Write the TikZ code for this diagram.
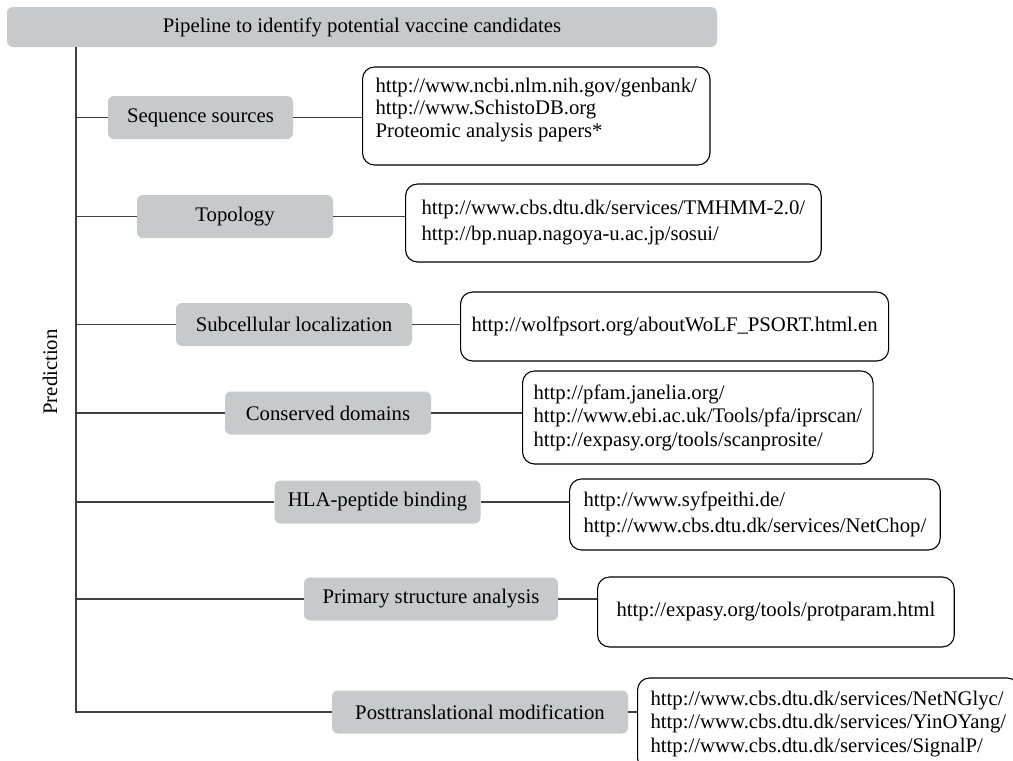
\documentclass[tikz,border=0pt]{standalone}
\usepackage{fontspec}
\setmainfont{Liberation Serif}
\usepackage{tikz}
\usetikzlibrary{positioning}
\definecolor{boxgray}{RGB}{200,201,203}
\definecolor{wiregray}{RGB}{64,64,64}

\begin{document}
\begin{tikzpicture}[x=1pt,y=-1pt,
  every node/.style={font=\fontsize{20.75}{23.5}\selectfont},
  cat/.style={fill=boxgray,rounded corners=6pt,minimum height=43pt,inner sep=0pt},
  src/.style={draw,line width=1.1pt,rounded corners=12pt,fill=white,align=left,anchor=west,inner ysep=0pt},
  wire/.style={draw=wiregray,line width=1.3pt}]
 \useasboundingbox (0,0) rectangle (1013,761);
 \clip (0,0) rectangle (1013,761);
 \node[cat,minimum width=710pt,minimum height=40pt] (title) at (362,27) {Pipeline to identify potential vaccine candidates};
 \coordinate (trunk) at (76,47);
 \node[rotate=90] (pred) at (50,372) {Prediction};
 % categories
 \node[cat,minimum width=185pt] (seq)  at (200.5,117.5) {Sequence sources};
 \node[cat,minimum width=196pt] (topo) at (235,216.5) {Topology};
 \node[cat,minimum width=236pt] (sub)  at (294,324.5) {Subcellular localization};
 \node[cat,minimum width=206pt] (con)  at (328,413) {Conserved domains};
 \node[cat,minimum width=206pt] (hla)  at (377.5,502) {HLA-peptide binding};
 \node[cat,minimum width=254pt] (pri)  at (431,599) {Primary structure analysis};
 \node[cat,minimum width=296pt] (pst)  at (480,712) {Posttranslational modification};
 % sources
 \node[src,inner xsep=13pt,minimum height=98pt,text depth=16.5pt] (seq-url) at (362,116)
   {http://www.ncbi.nlm.nih.gov/genbank/\\[-1pt]http://www.SchistoDB.org\\[-1pt]Proteomic analysis papers*};
 \node[src,inner xsep=16pt,minimum height=78pt] (topo-url) at (405,223)
   {http://www.cbs.dtu.dk/services/TMHMM-2.0/\\[2.5pt]http://bp.nuap.nagoya-u.ac.jp/sosui/};
 \node[src,inner xsep=11pt,minimum height=69pt] (sub-url) at (460,326.5)
   {http://wolfpsort.org/aboutWoLF\_PSORT.html.en};
 \node[src,inner xsep=11pt,minimum height=93pt] (con-url) at (522,417.5)
   {http://pfam.janelia.org/\\http://www.ebi.ac.uk/Tools/pfa/iprscan/\\http://expasy.org/tools/scanprosite/};
 \node[src,inner xsep=14pt,minimum height=71pt] (hla-url) at (569,514.5)
   {http://www.syfpeithi.de/\\[2.5pt]http://www.cbs.dtu.dk/services/NetChop/};
 \node[src,inner xsep=19pt,minimum height=70pt] (pri-url) at (597,612)
   {http://expasy.org/tools/protparam.html};
 \node[src,inner xsep=13pt,minimum height=92pt] (pst-url) at (637,724)
   {http://www.cbs.dtu.dk/services/NetNGlyc/\\http://www.cbs.dtu.dk/services/YinOYang/\\http://www.cbs.dtu.dk/services/SignalP/};
 % tree
 \draw[wire] (trunk) |- (pst.west);
 \foreach \n in {seq,topo,sub,con,hla,pri}
   \draw[wire] (trunk |- \n.west) -- (\n.west);
 \foreach \n in {seq,topo,sub,con,hla,pri,pst}
   \draw[wire] (\n.east) -- (\n.east -| \n-url.west);
\end{tikzpicture}
\end{document}
